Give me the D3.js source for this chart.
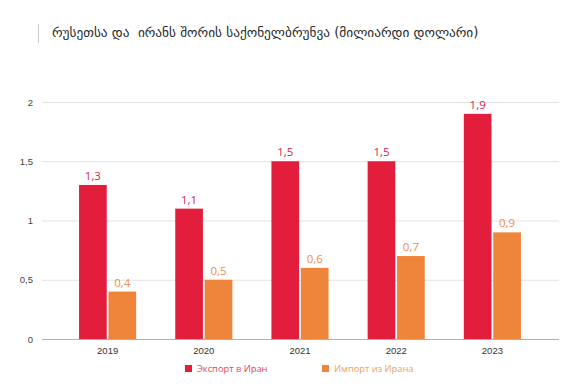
<!DOCTYPE html>
<html>
<head>
<meta charset="utf-8">
<script src="https://cdn.jsdelivr.net/npm/d3@7"></script>
<style>
	body { margin: 0; background: #fff; }
	svg { display: block; font-family: "Open Sans", sans-serif; }
</style>
</head>
<body>
<script>
const years = ["2019", "2020", "2021", "2022", "2023"];
const exportVals = [1.3, 1.1, 1.5, 1.5, 1.9];
const importVals = [0.4, 0.5, 0.6, 0.7, 0.9];
const seriesNames = ["Экспорт в Иран", "Импорт из Ирана"];
const yTicks = [0, 0.5, 1, 1.5, 2];
const title = "რუსეთსა და  ირანს შორის საქონელბრუნვა (მილიარდი დოლარი)";

const width = 572, height = 386;
const colors = ["#e31e3c", "#ef853b"];
const labelColors = ["#d8264b", "#ef8d4a"];
const fmt = (v) => String(v).replace(".", ",");

const svg = d3.select("body").append("svg")
	.attr("width", width).attr("height", height);

// title with little bar on the left
svg.append("line")
	.attr("x1", 38.5).attr("x2", 38.5).attr("y1", 24).attr("y2", 43)
	.style("stroke", "#c8c8c8");
svg.append("text")
	.attr("x", 52).attr("y", 37)
	.style("font-family", "DejaVu Sans")
	.style("font-size", "13.3px")
	.style("white-space", "pre")
	.style("fill", "#2a2a2a")
	.text(title);

const x0 = d3.scaleBand().domain(years).range([40, 560]).paddingInner(0.406).paddingOuter(0.406);
const x1 = d3.scaleBand().domain([0, 1]).range([0, x0.bandwidth()]).paddingInner(0.06);
const y = d3.scaleLinear().domain([0, 2]).range([339, 102]);

// gridlines
svg.append("g")
	.attr("transform", "translate(42,0)")
	.call(d3.axisLeft(y).tickValues(yTicks).tickSize(-517).tickFormat(fmt))
	.call((g) => g.select(".domain").remove())
	.call((g) => g.selectAll(".tick line").style("stroke", (d) => d === 0 ? "#b0b0b0" : "#e2e2e2").style("stroke-width", 1.2))
	.call((g) => g.selectAll(".tick text")
		.attr("x", -9)
		.style("font-size", "9.5px")
		.style("fill", "#444"));

// x axis labels
svg.append("g")
	.attr("transform", "translate(0,339)")
	.call(d3.axisBottom(x0).tickSize(0).tickPadding(8))
	.call((g) => g.select(".domain").remove())
	.call((g) => g.selectAll(".tick text").style("font-size", "9.5px").style("fill", "#333"));

const rows = years.map((yr, i) => ({ year: yr, vals: [exportVals[i], importVals[i]] }));

const groups = svg.selectAll(".grp").data(rows).enter().append("g")
	.attr("class", "grp")
	.attr("transform", (d) => "translate(" + x0(d.year) + ",0)");

groups.selectAll("rect").data((d) => d.vals).enter().append("rect")
	.attr("x", (d, i) => x1(i))
	.attr("width", x1.bandwidth())
	.attr("y", (d) => y(d))
	.attr("height", (d) => y(0) - y(d))
	.style("fill", (d, i) => colors[i]);

groups.selectAll(".val").data((d) => d.vals).enter().append("text")
	.attr("class", "val")
	.attr("x", (d, i) => x1(i) + x1.bandwidth() / 2)
	.attr("y", (d) => y(d) - 5)
	.attr("text-anchor", "middle")
	.style("font-size", "11.5px")
	.style("fill", (d, i) => labelColors[i])
	.text(fmt);

// legend
const legendX = [185, 322];
const legend = svg.selectAll(".leg").data(seriesNames).enter().append("g")
	.attr("class", "leg")
	.attr("transform", (d, i) => "translate(" + legendX[i] + ",365)");
legend.append("rect")
	.attr("width", 7).attr("height", 7)
	.style("fill", (d, i) => colors[i]);
legend.append("text")
	.attr("x", 12).attr("y", 7)
	.style("font-size", "9.3px")
	.style("fill", (d, i) => i === 0 ? "#e0436a" : "#f0a060")
	.text((d) => d);
</script>
</body>
</html>
